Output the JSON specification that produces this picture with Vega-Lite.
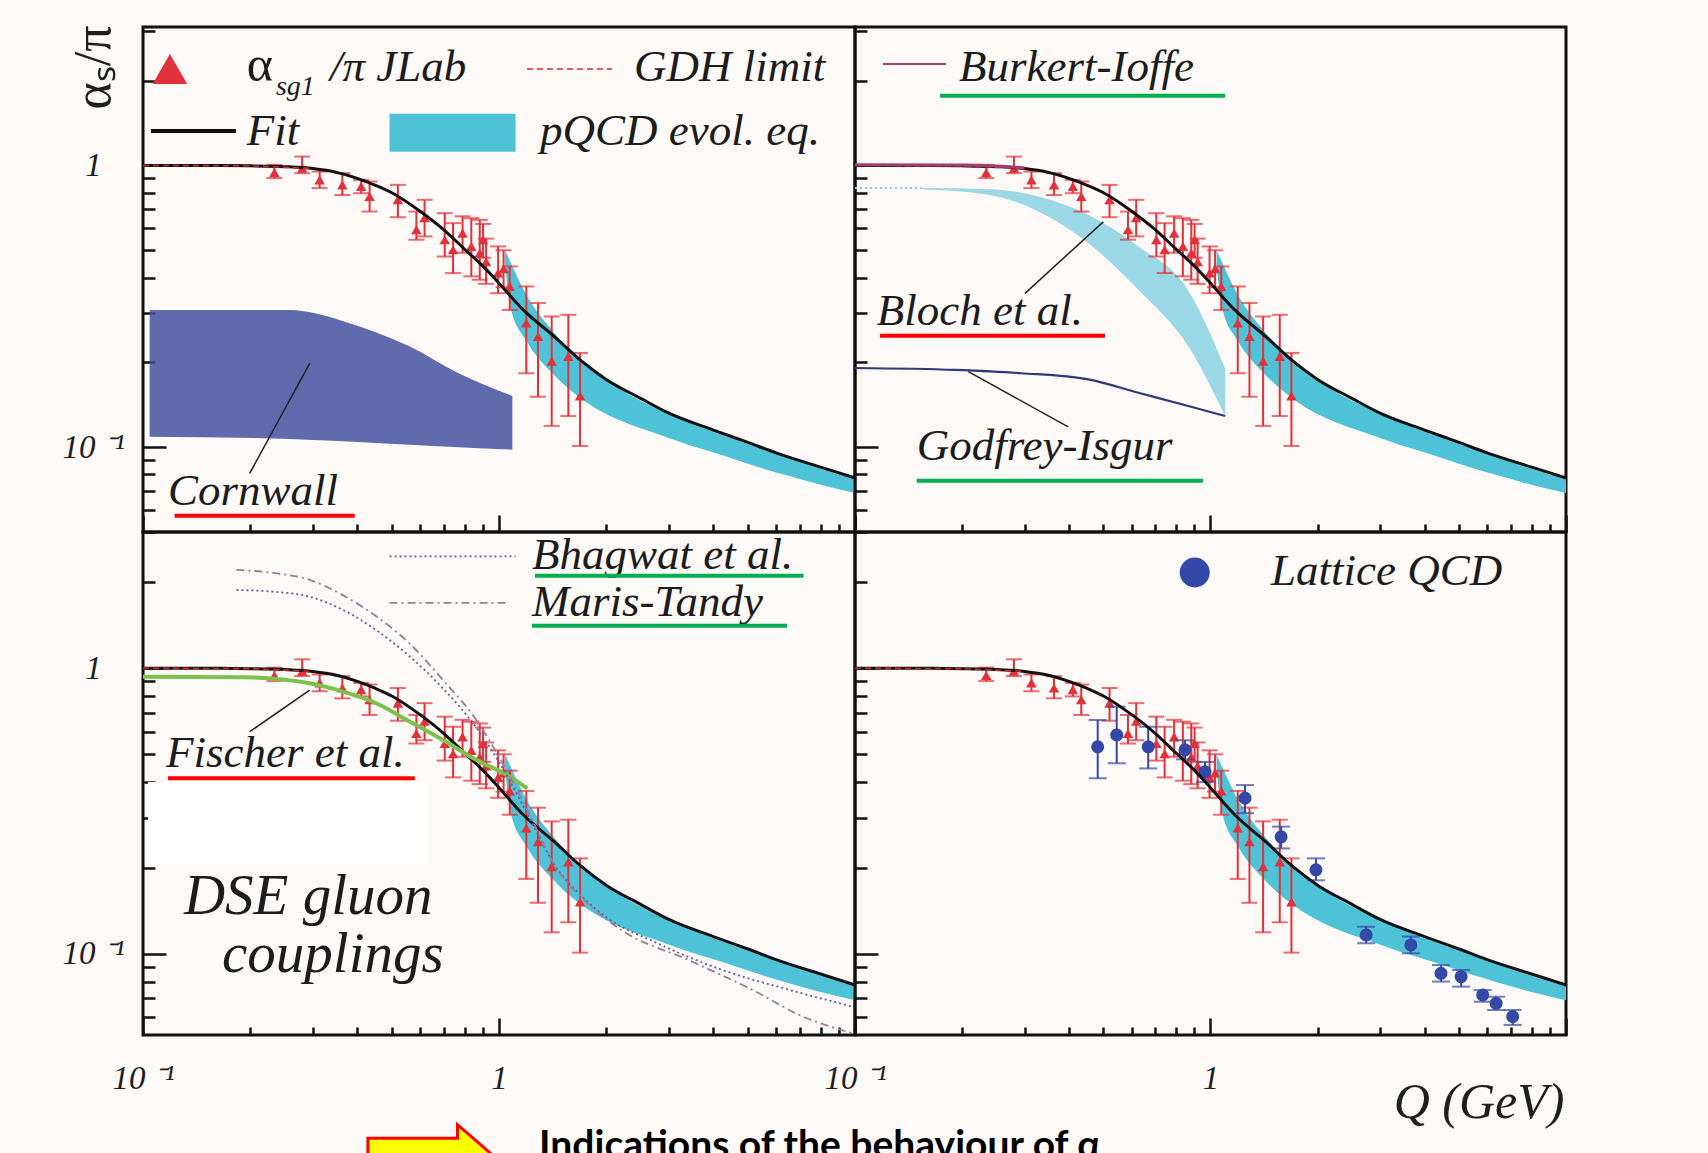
{
"$schema":"https://vega.github.io/schema/vega-lite/v6.json",
"autosize":{"type":"none"},
"padding":{"left":143,"top":27,"right":1565,"bottom":1126},
"background":"#fcf9f6",
"config":{
 "view":{"stroke":"#111111","strokeWidth":3,"fill":null},
 "axis":{"domain":false,"grid":false,"tickColor":"#111111","tickWidth":2.5,"labelFont":"Liberation Serif","labelFontStyle":"italic","labelFontSize":33,"labelColor":"#1e1e1e","labelFlush":false,"labelOverlap":false,"titleFont":"Liberation Serif","titleColor":"#1e1e1e","titleFontWeight":"normal"},
 "text":{"font":"Liberation Serif"}
},
"datasets":{
 "jlab":[
  {"Q":0.234,"v":0.944,"lo":0.902,"hi":1.005},
  {"Q":0.280,"v":0.977,"lo":0.939,"hi":1.075},
  {"Q":0.3135,"v":0.889,"lo":0.831,"hi":0.951},
  {"Q":0.363,"v":0.853,"lo":0.785,"hi":0.939},
  {"Q":0.410,"v":0.842,"lo":0.797,"hi":0.889},
  {"Q":0.433,"v":0.776,"lo":0.686,"hi":0.877},
  {"Q":0.520,"v":0.755,"lo":0.655,"hi":0.853},
  {"Q":0.586,"v":0.591,"lo":0.545,"hi":0.686},
  {"Q":0.618,"v":0.652,"lo":0.560,"hi":0.755},
  {"Q":0.704,"v":0.545,"lo":0.475,"hi":0.677},
  {"Q":0.743,"v":0.502,"lo":0.415,"hi":0.624},
  {"Q":0.790,"v":0.575,"lo":0.490,"hi":0.660},
  {"Q":0.836,"v":0.516,"lo":0.404,"hi":0.650},
  {"Q":0.883,"v":0.489,"lo":0.393,"hi":0.641},
  {"Q":0.902,"v":0.545,"lo":0.470,"hi":0.620},
  {"Q":0.920,"v":0.455,"lo":0.380,"hi":0.550},
  {"Q":0.994,"v":0.415,"lo":0.352,"hi":0.516},
  {"Q":1.030,"v":0.430,"lo":0.370,"hi":0.500},
  {"Q":1.072,"v":0.372,"lo":0.307,"hi":0.438},
  {"Q":1.193,"v":0.276,"lo":0.183,"hi":0.372},
  {"Q":1.287,"v":0.247,"lo":0.151,"hi":0.325},
  {"Q":1.406,"v":0.202,"lo":0.119,"hi":0.291},
  {"Q":1.566,"v":0.210,"lo":0.129,"hi":0.295},
  {"Q":1.689,"v":0.152,"lo":0.101,"hi":0.216}
 ],
 "fit":[{"Q":0.1,"v":1.0},{"Q":0.15,"v":1.0},{"Q":0.2,"v":0.997},{"Q":0.25,"v":0.99},{"Q":0.3,"v":0.975},{"Q":0.35,"v":0.945},{"Q":0.4,"v":0.90},{"Q":0.45,"v":0.85},{"Q":0.5,"v":0.80},{"Q":0.6,"v":0.688},{"Q":0.7,"v":0.591},{"Q":0.8,"v":0.505},{"Q":0.9,"v":0.44},{"Q":1.0,"v":0.382},{"Q":1.17,"v":0.307},{"Q":1.43,"v":0.247},{"Q":1.69,"v":0.204},{"Q":2.0,"v":0.174},{"Q":2.5,"v":0.149},{"Q":3.0,"v":0.132},{"Q":4.0,"v":0.115},{"Q":5.0,"v":0.104},{"Q":6.0,"v":0.0955},{"Q":8.0,"v":0.085},{"Q":10.0,"v":0.0778}],
 "pqcd":[{"Q":1.04,"v":0.44,"v2":0.50},{"Q":1.08,"v":0.31,"v2":0.45},{"Q":1.19,"v":0.24,"v2":0.35},{"Q":1.43,"v":0.18,"v2":0.255},{"Q":1.78,"v":0.143,"v2":0.194},{"Q":2.2,"v":0.124,"v2":0.160},{"Q":2.75,"v":0.112,"v2":0.138},{"Q":3.4,"v":0.102,"v2":0.123},{"Q":4.2,"v":0.094,"v2":0.111},{"Q":5.2,"v":0.086,"v2":0.101},{"Q":6.5,"v":0.0791,"v2":0.0917},{"Q":8.0,"v":0.0735,"v2":0.0838},{"Q":10.0,"v":0.0688,"v2":0.0769}],
 "gdh":[{"Q":0.1,"v":1.0},{"Q":0.2,"v":0.997},{"Q":0.3,"v":0.975}],
 "cornwall":[{"Q":0.1044,"v":0.109,"v2":0.307},{"Q":0.26,"v":0.107,"v2":0.307},{"Q":0.30,"v":0.106,"v2":0.300},{"Q":0.365,"v":0.105,"v2":0.28},{"Q":0.56,"v":0.102,"v2":0.228},{"Q":0.77,"v":0.100,"v2":0.183},{"Q":1.09,"v":0.098,"v2":0.152}],
 "bloch":[{"Q":0.154,"v":0.824,"v2":0.831},{"Q":0.237,"v":0.787,"v2":0.824},{"Q":0.328,"v":0.686,"v2":0.776},{"Q":0.453,"v":0.530,"v2":0.668},{"Q":0.627,"v":0.362,"v2":0.516},{"Q":0.866,"v":0.228,"v2":0.36},{"Q":1.10,"v":0.129,"v2":0.19}],
 "blochdot":[{"Q":0.1,"v":0.831},{"Q":0.154,"v":0.831}],
 "godfrey":[{"Q":0.1,"v":0.191},{"Q":0.191,"v":0.188},{"Q":0.294,"v":0.183},{"Q":0.453,"v":0.174},{"Q":0.627,"v":0.156},{"Q":0.866,"v":0.140},{"Q":1.099,"v":0.129}],
 "burkert":[{"Q":0.1,"v":1.005},{"Q":0.2,"v":1.003},{"Q":0.25,"v":0.995},{"Q":0.3,"v":0.98}],
 "fischer":[{"Q":0.1,"v":0.934},{"Q":0.191,"v":0.93},{"Q":0.294,"v":0.886},{"Q":0.365,"v":0.828},{"Q":0.452,"v":0.754},{"Q":0.561,"v":0.651},{"Q":0.696,"v":0.561},{"Q":0.863,"v":0.478},{"Q":1.07,"v":0.418},{"Q":1.2,"v":0.38}],
 "bhagwat":[{"Q":0.183,"v":1.88},{"Q":0.237,"v":1.85},{"Q":0.294,"v":1.78},{"Q":0.365,"v":1.60},{"Q":0.452,"v":1.36},{"Q":0.561,"v":1.10},{"Q":0.696,"v":0.85},{"Q":0.863,"v":0.62},{"Q":1.0,"v":0.47},{"Q":1.2,"v":0.31},{"Q":1.45,"v":0.20},{"Q":1.7,"v":0.16},{"Q":1.99,"v":0.135},{"Q":2.74,"v":0.110},{"Q":4.22,"v":0.088},{"Q":6.5,"v":0.075},{"Q":9.8,"v":0.0654}],
 "maris":[{"Q":0.183,"v":2.21},{"Q":0.237,"v":2.15},{"Q":0.294,"v":2.04},{"Q":0.365,"v":1.80},{"Q":0.452,"v":1.52},{"Q":0.561,"v":1.22},{"Q":0.696,"v":0.91},{"Q":0.863,"v":0.66},{"Q":1.0,"v":0.49},{"Q":1.2,"v":0.32},{"Q":1.45,"v":0.20},{"Q":1.78,"v":0.150},{"Q":2.21,"v":0.121},{"Q":3.4,"v":0.0953},{"Q":5.24,"v":0.074},{"Q":7.0,"v":0.061},{"Q":9.8,"v":0.0528}],
 "lattice":[
  {"Q":0.4816,"v":0.531,"lo":0.412,"hi":0.659},
  {"Q":0.5447,"v":0.584,"lo":0.465,"hi":0.734},
  {"Q":0.668,"v":0.531,"lo":0.446,"hi":0.624},
  {"Q":0.848,"v":0.518,"lo":0.48,"hi":0.56},
  {"Q":0.965,"v":0.434,"lo":0.40,"hi":0.47},
  {"Q":1.25,"v":0.351,"lo":0.311,"hi":0.390},
  {"Q":1.58,"v":0.257,"lo":0.234,"hi":0.279},
  {"Q":1.98,"v":0.197,"lo":0.181,"hi":0.216},
  {"Q":2.74,"v":0.1165,"lo":0.109,"hi":0.1245},
  {"Q":3.66,"v":0.1075,"lo":0.1005,"hi":0.115},
  {"Q":4.45,"v":0.0855,"lo":0.080,"hi":0.0914},
  {"Q":5.07,"v":0.0832,"lo":0.0768,"hi":0.0878},
  {"Q":5.83,"v":0.0718,"lo":0.068,"hi":0.0747},
  {"Q":6.36,"v":0.0671,"lo":0.0636,"hi":0.0708},
  {"Q":7.08,"v":0.0603,"lo":0.0564,"hi":0.0636}
 ]
},
"bounds":"flush",
"spacing":0,
"columns":2,
"concat":[
 {
  "width":712,"height":505,
  "encoding":{"x":{"field":"Q","type":"quantitative","scale":{"type":"log","domain":[0.1,10]},"axis":null},"y":{"field":"v","type":"quantitative","scale":{"type":"log","domain":[0.05,3.1]},"axis":null}},
  "resolve":{"axis":{"x":"independent","y":"independent"}},
  "layer":[
   {"data":{"name":"pqcd"},"mark":{"type":"area","color":"#4ec3d7","interpolate":"monotone"},
    "encoding":{"x":{"field":"Q","type":"quantitative","scale":{"type":"log","domain":[0.1,10]},"axis":{"orient":"bottom","values":[0.1,1,10],"tickSize":-17,"labels":false,"title":null}},
     "y":{"field":"v","type":"quantitative","scale":{"type":"log","domain":[0.05,3.1]},"axis":{"orient":"left","values":[0.1,1],"tickSize":-23,"labelExpr":"datum.value > 0.5 ? '1' : '10 ⁻¹'","labelPadding":73,"labelAlign":"center","labelBaseline":"middle","title":"αₛ/π","titleFontSize":52,"titleAngle":-90,"titleX":-34,"titleY":40,"titleAlign":"center","titleBaseline":"alphabetic"}},
     "y2":{"field":"v2"}}},
   {"data":{"name":"cornwall"},"mark":{"type":"area","color":"#44519f","opacity":0.85,"interpolate":"monotone"},"encoding":{"y2":{"field":"v2"}}},
   {"data":{"name":"jlab"},"mark":{"type":"rule","color":"#e2313b","strokeWidth":2},"encoding":{"y":{"field":"lo","type":"quantitative","scale":{"type":"log","domain":[0.05,3.1]},"axis":null},"y2":{"field":"hi"}}},
   {"data":{"name":"jlab"},"mark":{"type":"tick","orient":"horizontal","color":"#e2313b","size":16,"thickness":2},"encoding":{"y":{"field":"lo","type":"quantitative","scale":{"type":"log","domain":[0.05,3.1]},"axis":null}}},
   {"data":{"name":"jlab"},"mark":{"type":"tick","orient":"horizontal","color":"#e2313b","size":16,"thickness":2},"encoding":{"y":{"field":"hi","type":"quantitative","scale":{"type":"log","domain":[0.05,3.1]},"axis":null}}},
   {"data":{"name":"jlab"},"mark":{"type":"point","shape":"triangle-up","filled":true,"color":"#e2313b","size":110,"opacity":1}},
   {"data":{"name":"fit"},"mark":{"type":"line","color":"#111111","strokeWidth":3,"interpolate":"monotone"},
    "encoding":{"x":{"field":"Q","type":"quantitative","scale":{"type":"log","domain":[0.1,10]},"axis":{"orient":"bottom","values":[0.2,0.3,0.4,0.5,0.6,0.7,0.8,0.9,2,3,4,5,6,7,8,9],"tickSize":-8,"labels":false,"title":null}},
     "y":{"field":"v","type":"quantitative","scale":{"type":"log","domain":[0.05,3.1]},"axis":{"orient":"left","values":[0.06,0.07,0.08,0.09,0.2,0.3,0.4,0.5,0.6,0.7,0.8,0.9,2,3],"tickSize":-12,"labels":false,"title":null}}}},
   {"data":{"name":"gdh"},"mark":{"type":"line","color":"#d42a2a","strokeWidth":1.6,"strokeDash":[6,4]}},
   {"data":{"values":[{"Q":0.119,"v":2.20}]},"mark":{"type":"point","shape":"triangle-up","filled":true,"color":"#e2313b","size":1200,"opacity":1}},
   {"data":{"values":[{"Q":1.198,"Q2":2.077,"v":2.20}]},"mark":{"type":"rule","color":"#d42a2a","strokeWidth":1.6,"strokeDash":[6,4]},"encoding":{"x2":{"field":"Q2"}}},
   {"data":{"values":[{"Q":0.1053,"Q2":0.1824,"v":1.325}]},"mark":{"type":"rule","color":"#111111","strokeWidth":4},"encoding":{"x2":{"field":"Q2"}}},
   {"data":{"values":[{"Q":0.4926,"Q2":1.1133,"v":1.119,"v2":1.525}]},"mark":{"type":"rect","color":"#4ec3d7"},"encoding":{"x2":{"field":"Q2"},"y2":{"field":"v2"}}},
   {"data":{"values":[{"Q":0.3352,"v":1.994,"t":"/π JLab"},{"Q":2.394,"v":1.994,"t":"GDH limit"},{"Q":0.1957,"v":1.182,"t":"Fit"},{"Q":1.304,"v":1.182,"t":"pQCD evol. eq."},{"Q":0.1176,"v":0.0623,"t":"Cornwall"}]},
    "mark":{"type":"text","align":"left","baseline":"alphabetic","font":"Liberation Serif","fontStyle":"italic","fontSize":45,"color":"#1c1c1c"},"encoding":{"text":{"field":"t"}}},
   {"data":{"values":[{"Q":0.1957,"v":1.994,"t":"α"}]},
    "mark":{"type":"text","align":"left","baseline":"alphabetic","font":"Liberation Serif","fontSize":50,"color":"#1c1c1c"},"encoding":{"text":{"field":"t"}}},
   {"data":{"values":[{"Q":0.2363,"v":1.778,"t":"sg1"}]},"mark":{"type":"text","align":"left","baseline":"alphabetic","font":"Liberation Serif","fontStyle":"italic","fontSize":28,"color":"#1c1c1c"},"encoding":{"text":{"field":"t"}}},
   {"data":{"values":[{"Q":0.1227,"Q2":0.3933,"v":0.05709}]},"mark":{"type":"rule","color":"#ff0000","strokeWidth":4},"encoding":{"x2":{"field":"Q2"}}},
   {"data":{"values":[{"Q":0.2939,"v":0.1984,"Q2":0.1994,"v2":0.0807}]},"mark":{"type":"rule","color":"#222222","strokeWidth":1.5},"encoding":{"x2":{"field":"Q2"},"y2":{"field":"v2"}}}
  ]
 },
 {
  "width":711,"height":505,
  "encoding":{"x":{"field":"Q","type":"quantitative","scale":{"type":"log","domain":[0.1,10]},"axis":null},"y":{"field":"v","type":"quantitative","scale":{"type":"log","domain":[0.05,3.1]},"axis":null}},
  "resolve":{"axis":{"x":"independent","y":"independent"}},
  "layer":[
   {"data":{"name":"pqcd"},"mark":{"type":"area","color":"#4ec3d7","interpolate":"monotone"},
    "encoding":{"x":{"field":"Q","type":"quantitative","scale":{"type":"log","domain":[0.1,10]},"axis":{"orient":"bottom","values":[0.1,1,10],"tickSize":-17,"labels":false,"title":null}},
     "y":{"field":"v","type":"quantitative","scale":{"type":"log","domain":[0.05,3.1]},"axis":{"orient":"left","values":[0.1,1],"tickSize":-23,"labels":false,"title":null}},
     "y2":{"field":"v2"}}},
   {"data":{"name":"bloch"},"mark":{"type":"area","color":"#7fd0e0","opacity":0.8,"interpolate":"monotone"},"encoding":{"y2":{"field":"v2"}}},
   {"data":{"name":"blochdot"},"mark":{"type":"line","color":"#7fd0e0","strokeWidth":2,"strokeDash":[2,3]}},
   {"data":{"name":"godfrey"},"mark":{"type":"line","color":"#2c3a7a","strokeWidth":2.2,"interpolate":"monotone"}},
   {"data":{"name":"jlab"},"mark":{"type":"rule","color":"#e2313b","strokeWidth":2},"encoding":{"y":{"field":"lo","type":"quantitative","scale":{"type":"log","domain":[0.05,3.1]},"axis":null},"y2":{"field":"hi"}}},
   {"data":{"name":"jlab"},"mark":{"type":"tick","orient":"horizontal","color":"#e2313b","size":16,"thickness":2},"encoding":{"y":{"field":"lo","type":"quantitative","scale":{"type":"log","domain":[0.05,3.1]},"axis":null}}},
   {"data":{"name":"jlab"},"mark":{"type":"tick","orient":"horizontal","color":"#e2313b","size":16,"thickness":2},"encoding":{"y":{"field":"hi","type":"quantitative","scale":{"type":"log","domain":[0.05,3.1]},"axis":null}}},
   {"data":{"name":"jlab"},"mark":{"type":"point","shape":"triangle-up","filled":true,"color":"#e2313b","size":110,"opacity":1}},
   {"data":{"name":"fit"},"mark":{"type":"line","color":"#111111","strokeWidth":3,"interpolate":"monotone"},
    "encoding":{"x":{"field":"Q","type":"quantitative","scale":{"type":"log","domain":[0.1,10]},"axis":{"orient":"bottom","values":[0.2,0.3,0.4,0.5,0.6,0.7,0.8,0.9,2,3,4,5,6,7,8,9],"tickSize":-8,"labels":false,"title":null}},
     "y":{"field":"v","type":"quantitative","scale":{"type":"log","domain":[0.05,3.1]},"axis":{"orient":"left","values":[0.06,0.07,0.08,0.09,0.2,0.3,0.4,0.5,0.6,0.7,0.8,0.9,2,3],"tickSize":-12,"labels":false,"title":null}}}},
   {"data":{"name":"gdh"},"mark":{"type":"line","color":"#d42a2a","strokeWidth":1.6,"strokeDash":[6,4]}},
   {"data":{"name":"burkert"},"mark":{"type":"line","color":"#a04070","strokeWidth":3,"interpolate":"monotone"}},
   {"data":{"values":[{"Q":0.1199,"Q2":0.1803,"v":2.292}]},"mark":{"type":"rule","color":"#a04070","strokeWidth":2},"encoding":{"x2":{"field":"Q2"}}},
   {"data":{"values":[{"Q":0.1961,"v":1.994,"t":"Burkert-Ioffe"},{"Q":0.1151,"v":0.2714,"t":"Bloch et al."},{"Q":0.1492,"v":0.09,"t":"Godfrey-Isgur"}]},
    "mark":{"type":"text","align":"left","baseline":"alphabetic","font":"Liberation Serif","fontStyle":"italic","fontSize":45,"color":"#1c1c1c"},"encoding":{"text":{"field":"t"}}},
   {"data":{"values":[{"Q":0.1734,"Q2":1.0985,"v":1.768},{"Q":0.1492,"Q2":0.9526,"v":0.076}]},"mark":{"type":"rule","color":"#00b050","strokeWidth":4},"encoding":{"x2":{"field":"Q2"}}},
   {"data":{"values":[{"Q":0.1176,"Q2":0.5049,"v":0.2486}]},"mark":{"type":"rule","color":"#ff0000","strokeWidth":4},"encoding":{"x2":{"field":"Q2"}}},
   {"data":{"values":[{"Q":0.4994,"v":0.6306,"Q2":0.3007,"v2":0.3516},{"Q":0.2084,"v":0.1853,"Q2":0.398,"v2":0.1181}]},"mark":{"type":"rule","color":"#222222","strokeWidth":1.5},"encoding":{"x2":{"field":"Q2"},"y2":{"field":"v2"}}}
  ]
 },
 {
  "width":712,"height":503,
  "encoding":{"x":{"field":"Q","type":"quantitative","scale":{"type":"log","domain":[0.1,10]},"axis":null},"y":{"field":"v","type":"quantitative","scale":{"type":"log","domain":[0.052,3.0]},"axis":null}},
  "resolve":{"axis":{"x":"independent","y":"independent"}},
  "layer":[
   {"data":{"name":"pqcd"},"mark":{"type":"area","color":"#4ec3d7","interpolate":"monotone"},
    "encoding":{"x":{"field":"Q","type":"quantitative","scale":{"type":"log","domain":[0.1,10]},"axis":{"orient":"bottom","values":[0.1,1,10],"tickSize":-17,"labelExpr":"datum.value < 0.5 ? '10 ⁻¹' : (datum.value < 5 ? '1' : '')","labelPadding":60,"labelBaseline":"middle","labelAlign":"center","title":null}},
     "y":{"field":"v","type":"quantitative","scale":{"type":"log","domain":[0.052,3.0]},"axis":{"orient":"left","values":[0.1,1],"tickSize":-23,"labelExpr":"datum.value > 0.5 ? '1' : '10 ⁻¹'","labelPadding":73,"labelAlign":"center","labelBaseline":"middle","title":null}},
     "y2":{"field":"v2"}}},
   {"data":{"values":[{"Q":0.1033,"Q2":0.6318,"v":0.2047,"v2":0.3996}]},"mark":{"type":"rect","color":"#ffffff"},"encoding":{"x2":{"field":"Q2"},"y2":{"field":"v2"}}},
   {"data":{"name":"jlab"},"mark":{"type":"rule","color":"#e2313b","strokeWidth":2},"encoding":{"y":{"field":"lo","type":"quantitative","scale":{"type":"log","domain":[0.052,3.0]},"axis":null},"y2":{"field":"hi"}}},
   {"data":{"name":"jlab"},"mark":{"type":"tick","orient":"horizontal","color":"#e2313b","size":16,"thickness":2},"encoding":{"y":{"field":"lo","type":"quantitative","scale":{"type":"log","domain":[0.052,3.0]},"axis":null}}},
   {"data":{"name":"jlab"},"mark":{"type":"tick","orient":"horizontal","color":"#e2313b","size":16,"thickness":2},"encoding":{"y":{"field":"hi","type":"quantitative","scale":{"type":"log","domain":[0.052,3.0]},"axis":null}}},
   {"data":{"name":"jlab"},"mark":{"type":"point","shape":"triangle-up","filled":true,"color":"#e2313b","size":110,"opacity":1}},
   {"data":{"name":"fit"},"mark":{"type":"line","color":"#111111","strokeWidth":3,"interpolate":"monotone"},
    "encoding":{"x":{"field":"Q","type":"quantitative","scale":{"type":"log","domain":[0.1,10]},"axis":{"orient":"bottom","values":[0.2,0.3,0.4,0.5,0.6,0.7,0.8,0.9,2,3,4,5,6,7,8,9],"tickSize":-8,"labels":false,"title":null}},
     "y":{"field":"v","type":"quantitative","scale":{"type":"log","domain":[0.052,3.0]},"axis":{"orient":"left","values":[0.06,0.07,0.08,0.09,0.2,0.3,0.4,0.5,0.6,0.7,0.8,0.9,2,3],"tickSize":-12,"labels":false,"title":null}}}},
   {"data":{"name":"gdh"},"mark":{"type":"line","color":"#d42a2a","strokeWidth":1.6,"strokeDash":[6,4]}},
   {"data":{"name":"fischer"},"mark":{"type":"line","color":"#7cc24a","strokeWidth":4,"interpolate":"monotone"}},
   {"data":{"name":"bhagwat"},"mark":{"type":"line","color":"#5a5fa8","strokeWidth":1.8,"strokeDash":[2,3],"interpolate":"monotone"}},
   {"data":{"name":"maris"},"mark":{"type":"line","color":"#a07898","strokeWidth":1.8,"strokeDash":[8,4,2,4],"interpolate":"monotone"}},
   {"data":{"values":[{"Q":0.4926,"Q2":1.1133,"v":2.466}]},"mark":{"type":"rule","color":"#5a5fa8","strokeWidth":1.8,"strokeDash":[2,3]},"encoding":{"x2":{"field":"Q2"}}},
   {"data":{"values":[{"Q":0.4926,"Q2":1.056,"v":1.695}]},"mark":{"type":"rule","color":"#a07898","strokeWidth":1.8,"strokeDash":[8,4,2,4]},"encoding":{"x2":{"field":"Q2"}}},
   {"data":{"values":[{"Q":1.238,"v":2.235,"t":"Bhagwat et al."},{"Q":1.238,"v":1.524,"t":"Maris-Tandy"},{"Q":0.116,"v":0.4521,"t":"Fischer et al."}]},
    "mark":{"type":"text","align":"left","baseline":"alphabetic","font":"Liberation Serif","fontStyle":"italic","fontSize":45,"color":"#1c1c1c"},"encoding":{"text":{"field":"t"}}},
   {"data":{"values":[{"Q":0.1303,"v":0.1384,"t":"DSE gluon"},{"Q":0.1667,"v":0.0864,"t":"couplings"}]},
    "mark":{"type":"text","align":"left","baseline":"alphabetic","font":"Liberation Serif","fontStyle":"italic","fontSize":57,"color":"#1c1c1c"},"encoding":{"text":{"field":"t"}}},
   {"data":{"values":[{"Q":1.262,"Q2":7.171,"v":2.109},{"Q":1.238,"Q2":6.442,"v":1.408}]},"mark":{"type":"rule","color":"#00b050","strokeWidth":4},"encoding":{"x2":{"field":"Q2"}}},
   {"data":{"values":[{"Q":0.1176,"Q2":0.5798,"v":0.4118}]},"mark":{"type":"rule","color":"#ff0000","strokeWidth":4},"encoding":{"x2":{"field":"Q2"}}},
   {"data":{"values":[{"Q":0.2939,"v":0.839,"Q2":0.1994,"v2":0.5996}]},"mark":{"type":"rule","color":"#222222","strokeWidth":1.5},"encoding":{"x2":{"field":"Q2"},"y2":{"field":"v2"}}},
   {"data":{"values":[{"Q":0.648,"v":0.01929}]},"mark":{"type":"point","shape":"M-1,-0.31L0.4,-0.31L0.4,-0.52L1,0L0.4,0.52L0.4,0.31L-1,0.31Z","size":16384,"filled":true,"fill":"#ffff00","stroke":"#ff0000","strokeWidth":3,"opacity":1}},
   {"data":{"values":[{"Q":1.296,"v":0.01929,"t":"Indications of the behaviour of α"}]},"mark":{"type":"text","align":"left","baseline":"alphabetic","font":"Lato","fontWeight":"bold","fontSize":39,"color":"#000000"},"encoding":{"text":{"field":"t"}}}
  ]
 },
 {
  "width":711,"height":503,
  "encoding":{"x":{"field":"Q","type":"quantitative","scale":{"type":"log","domain":[0.1,10]},"axis":null},"y":{"field":"v","type":"quantitative","scale":{"type":"log","domain":[0.052,3.0]},"axis":null}},
  "resolve":{"axis":{"x":"independent","y":"independent"}},
  "layer":[
   {"data":{"name":"pqcd"},"mark":{"type":"area","color":"#4ec3d7","interpolate":"monotone"},
    "encoding":{"x":{"field":"Q","type":"quantitative","scale":{"type":"log","domain":[0.1,10]},"axis":{"orient":"bottom","values":[0.1,1,10],"tickSize":-17,"labelExpr":"datum.value < 0.5 ? '10 ⁻¹' : (datum.value < 5 ? '1' : '')","labelPadding":60,"labelBaseline":"middle","labelAlign":"center","title":"Q (GeV)","titleFontSize":50,"titleFontStyle":"italic","titleX":709,"titleY":82,"titleAlign":"right","titleBaseline":"alphabetic","titleAngle":0}},
     "y":{"field":"v","type":"quantitative","scale":{"type":"log","domain":[0.052,3.0]},"axis":{"orient":"left","values":[0.1,1],"tickSize":-23,"labels":false,"title":null}},
     "y2":{"field":"v2"}}},
   {"data":{"name":"jlab"},"mark":{"type":"rule","color":"#e2313b","strokeWidth":2},"encoding":{"y":{"field":"lo","type":"quantitative","scale":{"type":"log","domain":[0.052,3.0]},"axis":null},"y2":{"field":"hi"}}},
   {"data":{"name":"jlab"},"mark":{"type":"tick","orient":"horizontal","color":"#e2313b","size":16,"thickness":2},"encoding":{"y":{"field":"lo","type":"quantitative","scale":{"type":"log","domain":[0.052,3.0]},"axis":null}}},
   {"data":{"name":"jlab"},"mark":{"type":"tick","orient":"horizontal","color":"#e2313b","size":16,"thickness":2},"encoding":{"y":{"field":"hi","type":"quantitative","scale":{"type":"log","domain":[0.052,3.0]},"axis":null}}},
   {"data":{"name":"jlab"},"mark":{"type":"point","shape":"triangle-up","filled":true,"color":"#e2313b","size":110,"opacity":1}},
   {"data":{"name":"lattice"},"mark":{"type":"rule","color":"#3448a8","strokeWidth":2},"encoding":{"y":{"field":"lo","type":"quantitative","scale":{"type":"log","domain":[0.052,3.0]},"axis":null},"y2":{"field":"hi"}}},
   {"data":{"name":"lattice"},"mark":{"type":"tick","orient":"horizontal","color":"#3448a8","size":18,"thickness":2},"encoding":{"y":{"field":"lo","type":"quantitative","scale":{"type":"log","domain":[0.052,3.0]},"axis":null}}},
   {"data":{"name":"lattice"},"mark":{"type":"tick","orient":"horizontal","color":"#3448a8","size":18,"thickness":2},"encoding":{"y":{"field":"hi","type":"quantitative","scale":{"type":"log","domain":[0.052,3.0]},"axis":null}}},
   {"data":{"name":"lattice"},"mark":{"type":"circle","color":"#3448a8","size":170,"opacity":1}},
   {"data":{"name":"fit"},"mark":{"type":"line","color":"#111111","strokeWidth":3,"interpolate":"monotone"},
    "encoding":{"x":{"field":"Q","type":"quantitative","scale":{"type":"log","domain":[0.1,10]},"axis":{"orient":"bottom","values":[0.2,0.3,0.4,0.5,0.6,0.7,0.8,0.9,2,3,4,5,6,7,8,9],"tickSize":-8,"labels":false,"title":null}},
     "y":{"field":"v","type":"quantitative","scale":{"type":"log","domain":[0.052,3.0]},"axis":{"orient":"left","values":[0.06,0.07,0.08,0.09,0.2,0.3,0.4,0.5,0.6,0.7,0.8,0.9,2,3],"tickSize":-12,"labels":false,"title":null}}}},
   {"data":{"name":"gdh"},"mark":{"type":"line","color":"#d42a2a","strokeWidth":1.6,"strokeDash":[6,4]}},
   {"data":{"values":[{"Q":0.9028,"v":2.164}]},"mark":{"type":"circle","color":"#3448a8","size":900,"opacity":1}},
   {"data":{"values":[{"Q":1.48,"v":1.963,"t":"Lattice QCD"}]},
    "mark":{"type":"text","align":"left","baseline":"alphabetic","font":"Liberation Serif","fontStyle":"italic","fontSize":45,"color":"#1c1c1c"},"encoding":{"text":{"field":"t"}}}
  ]
 }
]
}
